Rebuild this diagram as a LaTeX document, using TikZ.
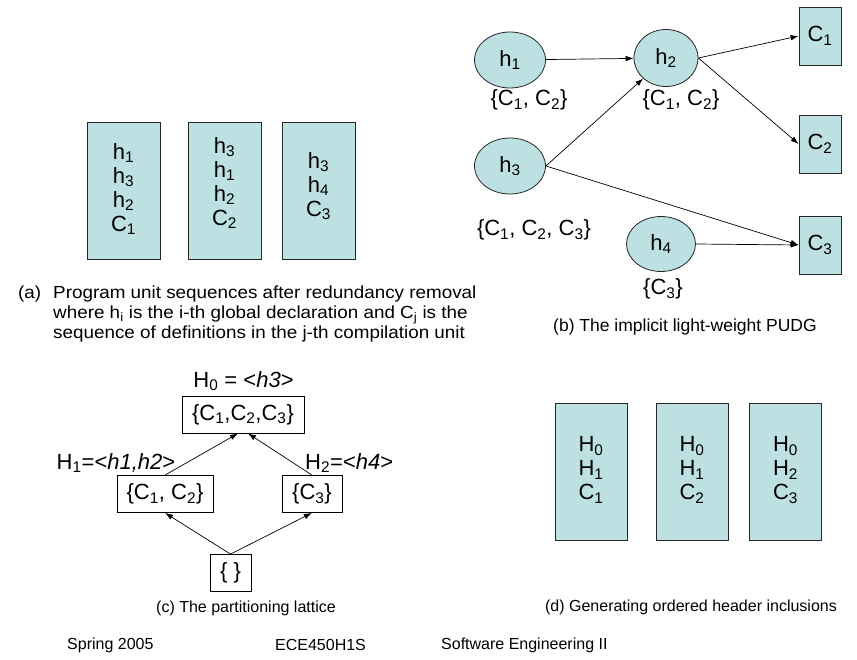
\documentclass[tikz,border=0pt]{standalone}
\usepackage{fontspec}
\setmainfont{Liberation Sans}
\newfontfamily\widecapfont[FakeStretch=1.077]{Liberation Sans}
\usetikzlibrary{arrows.meta,shapes.geometric}
\definecolor{boxcyan}{RGB}{189,224,227}
\newcommand\sbb[1]{\textsubscript{#1}}
\begin{document}
\begin{tikzpicture}[x=1pt,y=-1pt,
  big/.style={font=\fontsize{22}{24}\selectfont},
  capa/.style={font=\widecapfont\fontsize{17.5}{19}\selectfont},
  capt/.style={font=\fontsize{17.5}{20}\selectfont},
  capsm/.style={font=\fontsize{16}{19}\selectfont},
  foot/.style={font=\fontsize{16}{19}\selectfont},
  unitbox/.style={draw=black!85, line width=0.8pt, fill=boxcyan, minimum width=73pt, minimum height=137pt, inner sep=0pt},
  unittext/.style={inner sep=0pt, align=center, big},
  hnode/.style={ellipse, draw=black!85, line width=0.8pt, fill=boxcyan, minimum width=71pt, minimum height=56pt, inner sep=0pt, big},
  cbox/.style={draw=black!85, line width=0.8pt, fill=boxcyan, minimum width=42pt, minimum height=58pt, inner sep=0pt, big},
  lbox/.style={draw=black, line width=0.8pt, fill=white, minimum height=37pt, inner sep=0pt, big},
  lbl/.style={inner sep=0pt, big},
  arr/.style={line width=0.7pt, -{Latex[length=8pt,width=5.5pt]}}
]
\useasboundingbox (0,0) rectangle (857,660);

% (a) program unit sequences
\node[unitbox] (a1) at (123.5,190.5) {};
\node[unitbox] (a2) at (224.5,190.5) {};
\node[unitbox] (a3) at (318.5,190.5) {};
\node[unittext] (a1t) at (123.5,189) {h\sbb{1}\\h\sbb{3}\\h\sbb{2}\\C\sbb{1}};
\node[unittext] (a2t) at (224.5,183) {h\sbb{3}\\h\sbb{1}\\h\sbb{2}\\C\sbb{2}};
\node[unittext] (a3t) at (318.5,186) {h\sbb{3}\\h\sbb{4}\\C\sbb{3}};
\node[capa, anchor=base west, inner sep=0pt] (capa0) at (18,299) {(a)};
\node[capa, anchor=base west, inner sep=0pt] (capa1) at (53,299) {Program unit sequences after redundancy removal};
\node[capa, anchor=base west, inner sep=0pt] (capa2) at (53,318.5) {where h\sbb{i} is the i-th global declaration and C\sbb{j} is the};
\node[capa, anchor=base west, inner sep=0pt] (capa3) at (53,338) {sequence of definitions in the j-th compilation unit};

% (b) PUDG
\node[hnode] (h1) at (510,60) {h\sbb{1}};
\node[hnode, minimum width=64pt, minimum height=57pt] (h2) at (666,58) {h\sbb{2}};
\node[hnode] (h3) at (510,166) {h\sbb{3}};
\node[hnode, minimum width=69pt, minimum height=55pt] (h4) at (661,244) {h\sbb{4}};
\node[cbox] (c1) at (820,36) {C\sbb{1}};
\node[cbox] (c2) at (820,144) {C\sbb{2}};
\node[cbox] (c3) at (820,245) {C\sbb{3}};
\node[lbl] (s1) at (529,100) {\{C\sbb{1}, C\sbb{2}\}};
\node[lbl] (s2) at (681,100) {\{C\sbb{1}, C\sbb{2}\}};
\node[lbl] (s3) at (534,230) {\{C\sbb{1}, C\sbb{2}, C\sbb{3}\}};
\node[lbl] (s4) at (663,289) {\{C\sbb{3}\}};
\draw[arr] (h1) -- (h2);
\draw[arr] (h3.east) -- (h2);
\draw[arr] (h2.east) -- (c1.west);
\draw[arr] (h2.east) -- (c2.west);
\draw[arr] (h3.east) -- (c3.west);
\draw[arr] (h4.east) -- (c3.west);
\node[capt] (capb) at (685,327) {(b) The implicit light-weight PUDG};

% (c) partitioning lattice
\node[lbox, minimum width=122pt] (top) at (243,414.5) {\{C\sbb{1},C\sbb{2},C\sbb{3}\}};
\node[lbox, minimum width=96pt] (l12) at (165,494) {\{C\sbb{1}, C\sbb{2}\}};
\node[lbox, minimum width=60pt] (l3) at (312,494) {\{C\sbb{3}\}};
\node[lbox, minimum width=41pt] (l0) at (230.5,573) {\{ \}};
\node[lbl] (H0) at (243.5,381) {H\sbb{0} = <\textit{h3}>};
\node[lbl] (H1) at (116,463) {H\sbb{1}=<\textit{h1,h2}>};
\node[lbl, anchor=west] (H2) at (305,463) {H\sbb{2}=<\textit{h4}>};
\draw[arr] (l0.north) -- (l12.south);
\draw[arr] (l0.north) -- (l3.south);
\draw[arr] (l12.north) -- ([xshift=-5pt]top.south);
\draw[arr] (l3.north) -- ([xshift=5pt]top.south);
\node[capsm] (capc) at (246,608) {(c) The partitioning lattice};

% (d) ordered header inclusions
\node[unitbox, minimum width=72pt] (d1) at (591,471.5) {};
\node[unitbox, minimum width=72pt] (d2) at (692,471.5) {};
\node[unitbox, minimum width=72pt] (d3) at (785.5,471.5) {};
\node[unittext] (d1t) at (591,470) {H\sbb{0}\\H\sbb{1}\\C\sbb{1}};
\node[unittext] (d2t) at (692,470) {H\sbb{0}\\H\sbb{1}\\C\sbb{2}};
\node[unittext] (d3t) at (785.5,470) {H\sbb{0}\\H\sbb{2}\\C\sbb{3}};
\node[capsm] (capd) at (691,607) {(d) Generating ordered header inclusions};

% footer
\node[foot, anchor=west, inner sep=0pt] (f1) at (67,645) {Spring 2005};
\node[foot, anchor=west, inner sep=0pt] (f2) at (275,645) {ECE450H1S};
\node[foot, anchor=west, inner sep=0pt] (f3) at (441,645) {Software Engineering II};
\end{tikzpicture}
\end{document}
